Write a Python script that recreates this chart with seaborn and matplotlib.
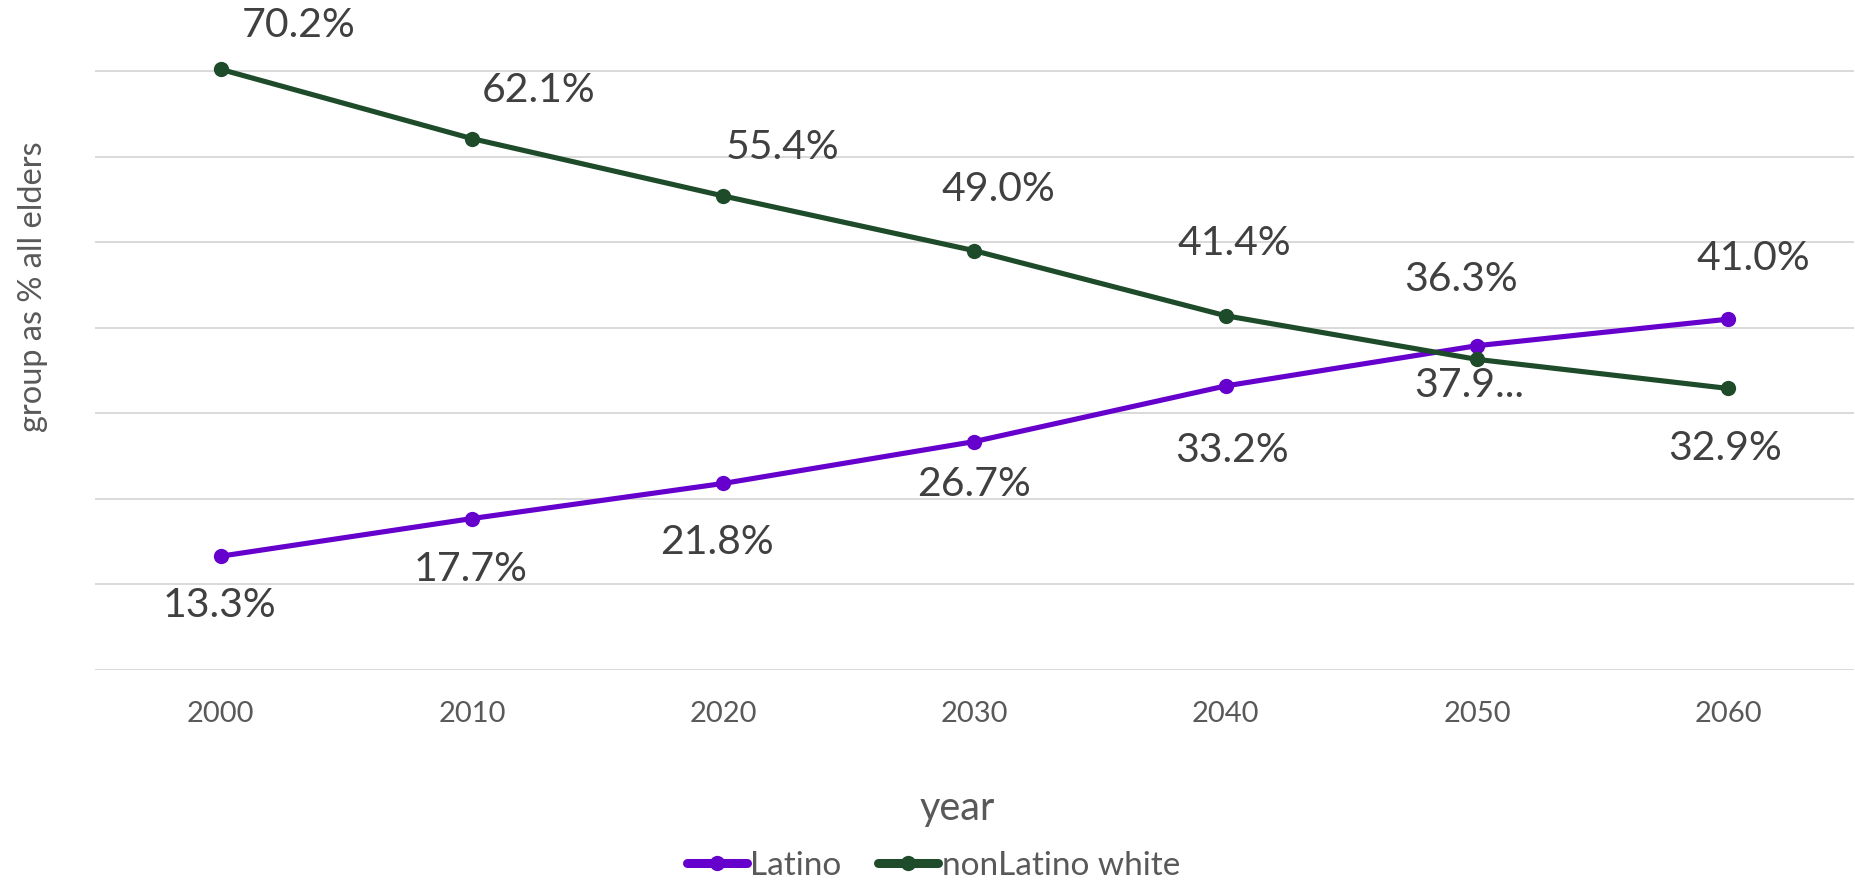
import matplotlib
matplotlib.use("Agg")
import matplotlib.pyplot as plt
from matplotlib.lines import Line2D
import seaborn as sns
import pandas as pd

# ---- data ----
years = [2000, 2010, 2020, 2030, 2040, 2050, 2060]
latino = [13.3, 17.7, 21.8, 26.7, 33.2, 37.9, 41.0]
nonlatino_white = [70.2, 62.1, 55.4, 49.0, 41.4, 36.3, 32.9]
series_names = ["Latino", "nonLatino white"]
latino_labels = ["13.3%", "17.7%", "21.8%", "26.7%", "33.2%", "37.9...", "41.0%"]
white_labels = ["70.2%", "62.1%", "55.4%", "49.0%", "41.4%", "36.3%", "32.9%"]
grid_values = [0, 10, 20, 30, 40, 50, 60, 70]

# label placement (pixel offsets from the point)
latino_offsets = [(-1, -49), (-1, -51), (-6, -59), (0, -43), (6, -65), (-8, -40), (25, 61)]
white_offsets = [(78, 44), (67, 48), (59, 48), (24, 61), (9, 72), (-16, 80), (-3, -60)]

colors = {"Latino": "#6600CC", "nonLatino white": "#1E4B2A"}

df = pd.DataFrame({
    "year": years * 2,
    "value": latino + nonlatino_white,
    "series": [series_names[0]] * len(years) + [series_names[1]] * len(years),
})

sns.set_theme(style="white")
plt.rcParams["font.family"] = ["Lato", "DejaVu Sans"]

W, H = 1856, 882
fig = plt.figure(figsize=(W / 100, H / 100), dpi=100)
ax = fig.add_axes([95 / W, (H - 670) / H, (1854 - 95) / W, 670 / H])

for g in grid_values:
    ax.axhline(g, color="#D9D9D9", lw=1.4, zorder=0)

sns.lineplot(data=df, x="year", y="value", hue="series", palette=colors,
             marker="o", markersize=11, markeredgewidth=0, linewidth=3.7,
             ax=ax, legend=False, zorder=3)

ax.set_xlim(1995, 2065)
ax.set_ylim(0, 670 / 8.557)
ax.set_xticks(years)
ax.set_xticklabels([str(y) for y in years])
ax.set_yticks([])
ax.tick_params(axis="x", length=0, pad=22, labelsize=21, labelcolor="#595959")
for s in ax.spines.values():
    s.set_visible(False)

ax.set_xlabel("")
ax.set_ylabel("")
fig.text(957 / W, 1 - 820 / H, "year", ha="center", va="baseline",
         fontsize=28.5, color="#595959")
fig.text(33 / W, 1 - 287 / H, "group as % all elders", rotation=90,
         ha="center", va="center", fontsize=23.4, color="#595959")

for x, v, t, (dx, dy) in zip(years, latino, latino_labels, latino_offsets):
    ax.annotate(t, (x, v), xytext=(dx, dy), textcoords="offset pixels",
                ha="center", va="center", fontsize=29.5, color="#404040",
                annotation_clip=False)
for x, v, t, (dx, dy) in zip(years, nonlatino_white, white_labels, white_offsets):
    ax.annotate(t, (x, v), xytext=(dx, dy), textcoords="offset pixels",
                ha="center", va="center", fontsize=29.5, color="#404040",
                annotation_clip=False)

handles = [Line2D([0], [0], color=colors[n], lw=6.5, marker="o", markersize=11,
                  markeredgewidth=0, solid_capstyle="round") for n in series_names]
fig.legend(handles, series_names, loc="center", bbox_to_anchor=(0.503, 0.018),
           ncol=2, frameon=False, fontsize=24, handlelength=1.8,
           handletextpad=0.1, columnspacing=1.1, labelcolor="#595959",
           borderpad=0, borderaxespad=0)

fig.savefig("out.png", dpi=100)
